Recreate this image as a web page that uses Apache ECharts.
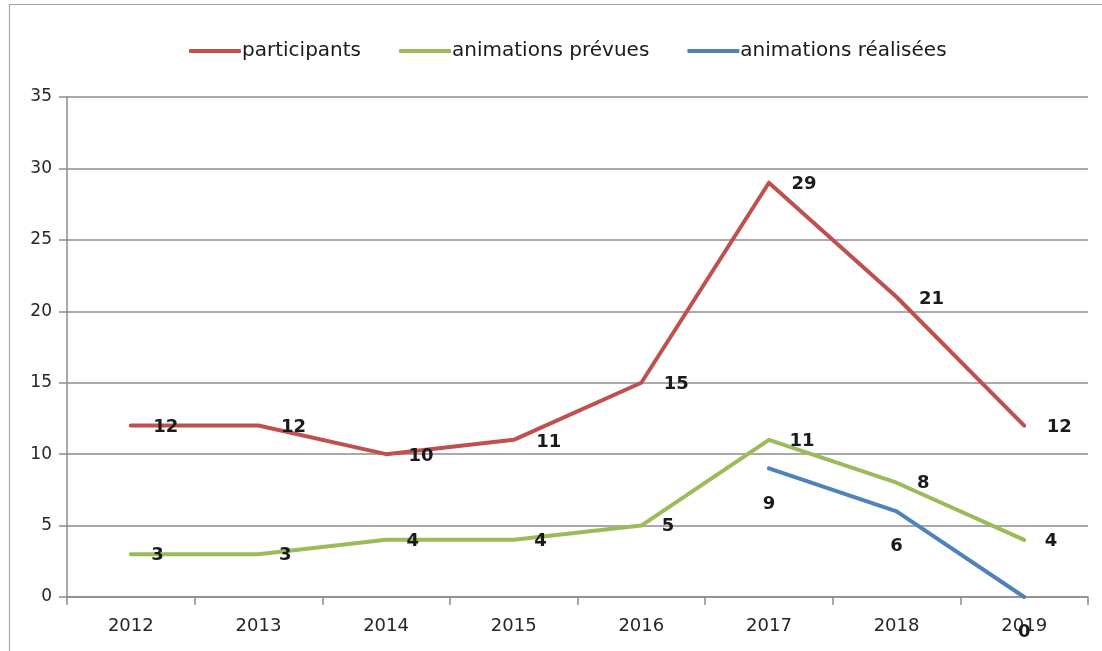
<!DOCTYPE html>
<html>
<head>
<meta charset="utf-8">
<script src="https://cdn.jsdelivr.net/npm/echarts@6/dist/echarts.min.js"></script>
<style>
html,body{margin:0;padding:0;background:#fff;}
#chart{width:1102px;height:651px;}
</style>
</head>
<body>
<div id="chart"></div>
<script>
const categories = ['2012','2013','2014','2015','2016','2017','2018','2019'];
const participants = [12, 12, 10, 11, 15, 29, 21, 12];
const animationsPrevues = [3, 3, 4, 4, 5, 11, 8, 4];
const animationsRealisees = [null, null, null, null, null, 9, 6, 0];
const seriesNames = ['participants', 'animations prévues', 'animations réalisées'];

const chart = echarts.init(document.getElementById('chart'), null, {renderer: 'canvas'});
const labelStyle = {show: true, color: '#1a1a1a', fontFamily: 'DejaVu Sans', fontWeight: 'bold', fontSize: 18};
function line(name, data, color, label) {
  return {
    name: name, type: 'line', data: data, showSymbol: true, symbol: 'circle', symbolSize: 1,
    connectNulls: false, animation: false,
    lineStyle: {color: color, width: 4, cap: 'round', join: 'round'},
    itemStyle: {color: color},
    label: Object.assign({}, labelStyle, label),
    emphasis: {disabled: true}
  };
}
chart.setOption({
  animation: false,
  backgroundColor: '#fff',
  graphic: [{type: 'rect', left: 7, top: 2, silent: true, shape: {width: 1200, height: 700}, style: {fill: 'none', stroke: '#a6a6a6', lineWidth: 1.2}}],
  legend: {
    top: 36, left: 184, itemWidth: 52, itemHeight: 4, itemGap: 38,
    icon: 'roundRect',
    textStyle: {fontFamily: 'DejaVu Sans', fontSize: 20, color: '#1a1a1a', padding: [0,0,0,-4]},
    data: seriesNames
  },
  grid: {left: 67, right: 14, top: 97, bottom: 54, containLabel: false},
  xAxis: {
    type: 'category', data: categories, boundaryGap: true,
    axisLine: {lineStyle: {color: '#8c8c8c', width: 1.5}},
    axisTick: {show: true, length: 8, alignWithLabel: false, lineStyle: {color: '#8c8c8c', width: 1.5}},
    axisLabel: {fontFamily: 'DejaVu Sans', fontSize: 18, color: '#262626', margin: 20}
  },
  yAxis: {
    type: 'value', min: 0, max: 35, interval: 5,
    axisLine: {show: true, lineStyle: {color: '#8c8c8c', width: 1.5}},
    axisTick: {show: true, length: 8, lineStyle: {color: '#8c8c8c', width: 1.5}},
    splitLine: {lineStyle: {color: '#8c8c8c', width: 1.5}},
    axisLabel: {fontFamily: 'DejaVu Sans', fontSize: 17, color: '#262626', margin: 15}
  },
  series: [
    line(seriesNames[0], participants, '#C0504D', {position: 'right', distance: 22, offset: [0, 2]}),
    line(seriesNames[1], animationsPrevues, '#9BBB59', {position: 'right', distance: 20, offset: [0, 1]}),
    line(seriesNames[2], animationsRealisees, '#4F81BD', {position: 'bottom', distance: 26})
  ]
});
</script>
</body>
</html>
